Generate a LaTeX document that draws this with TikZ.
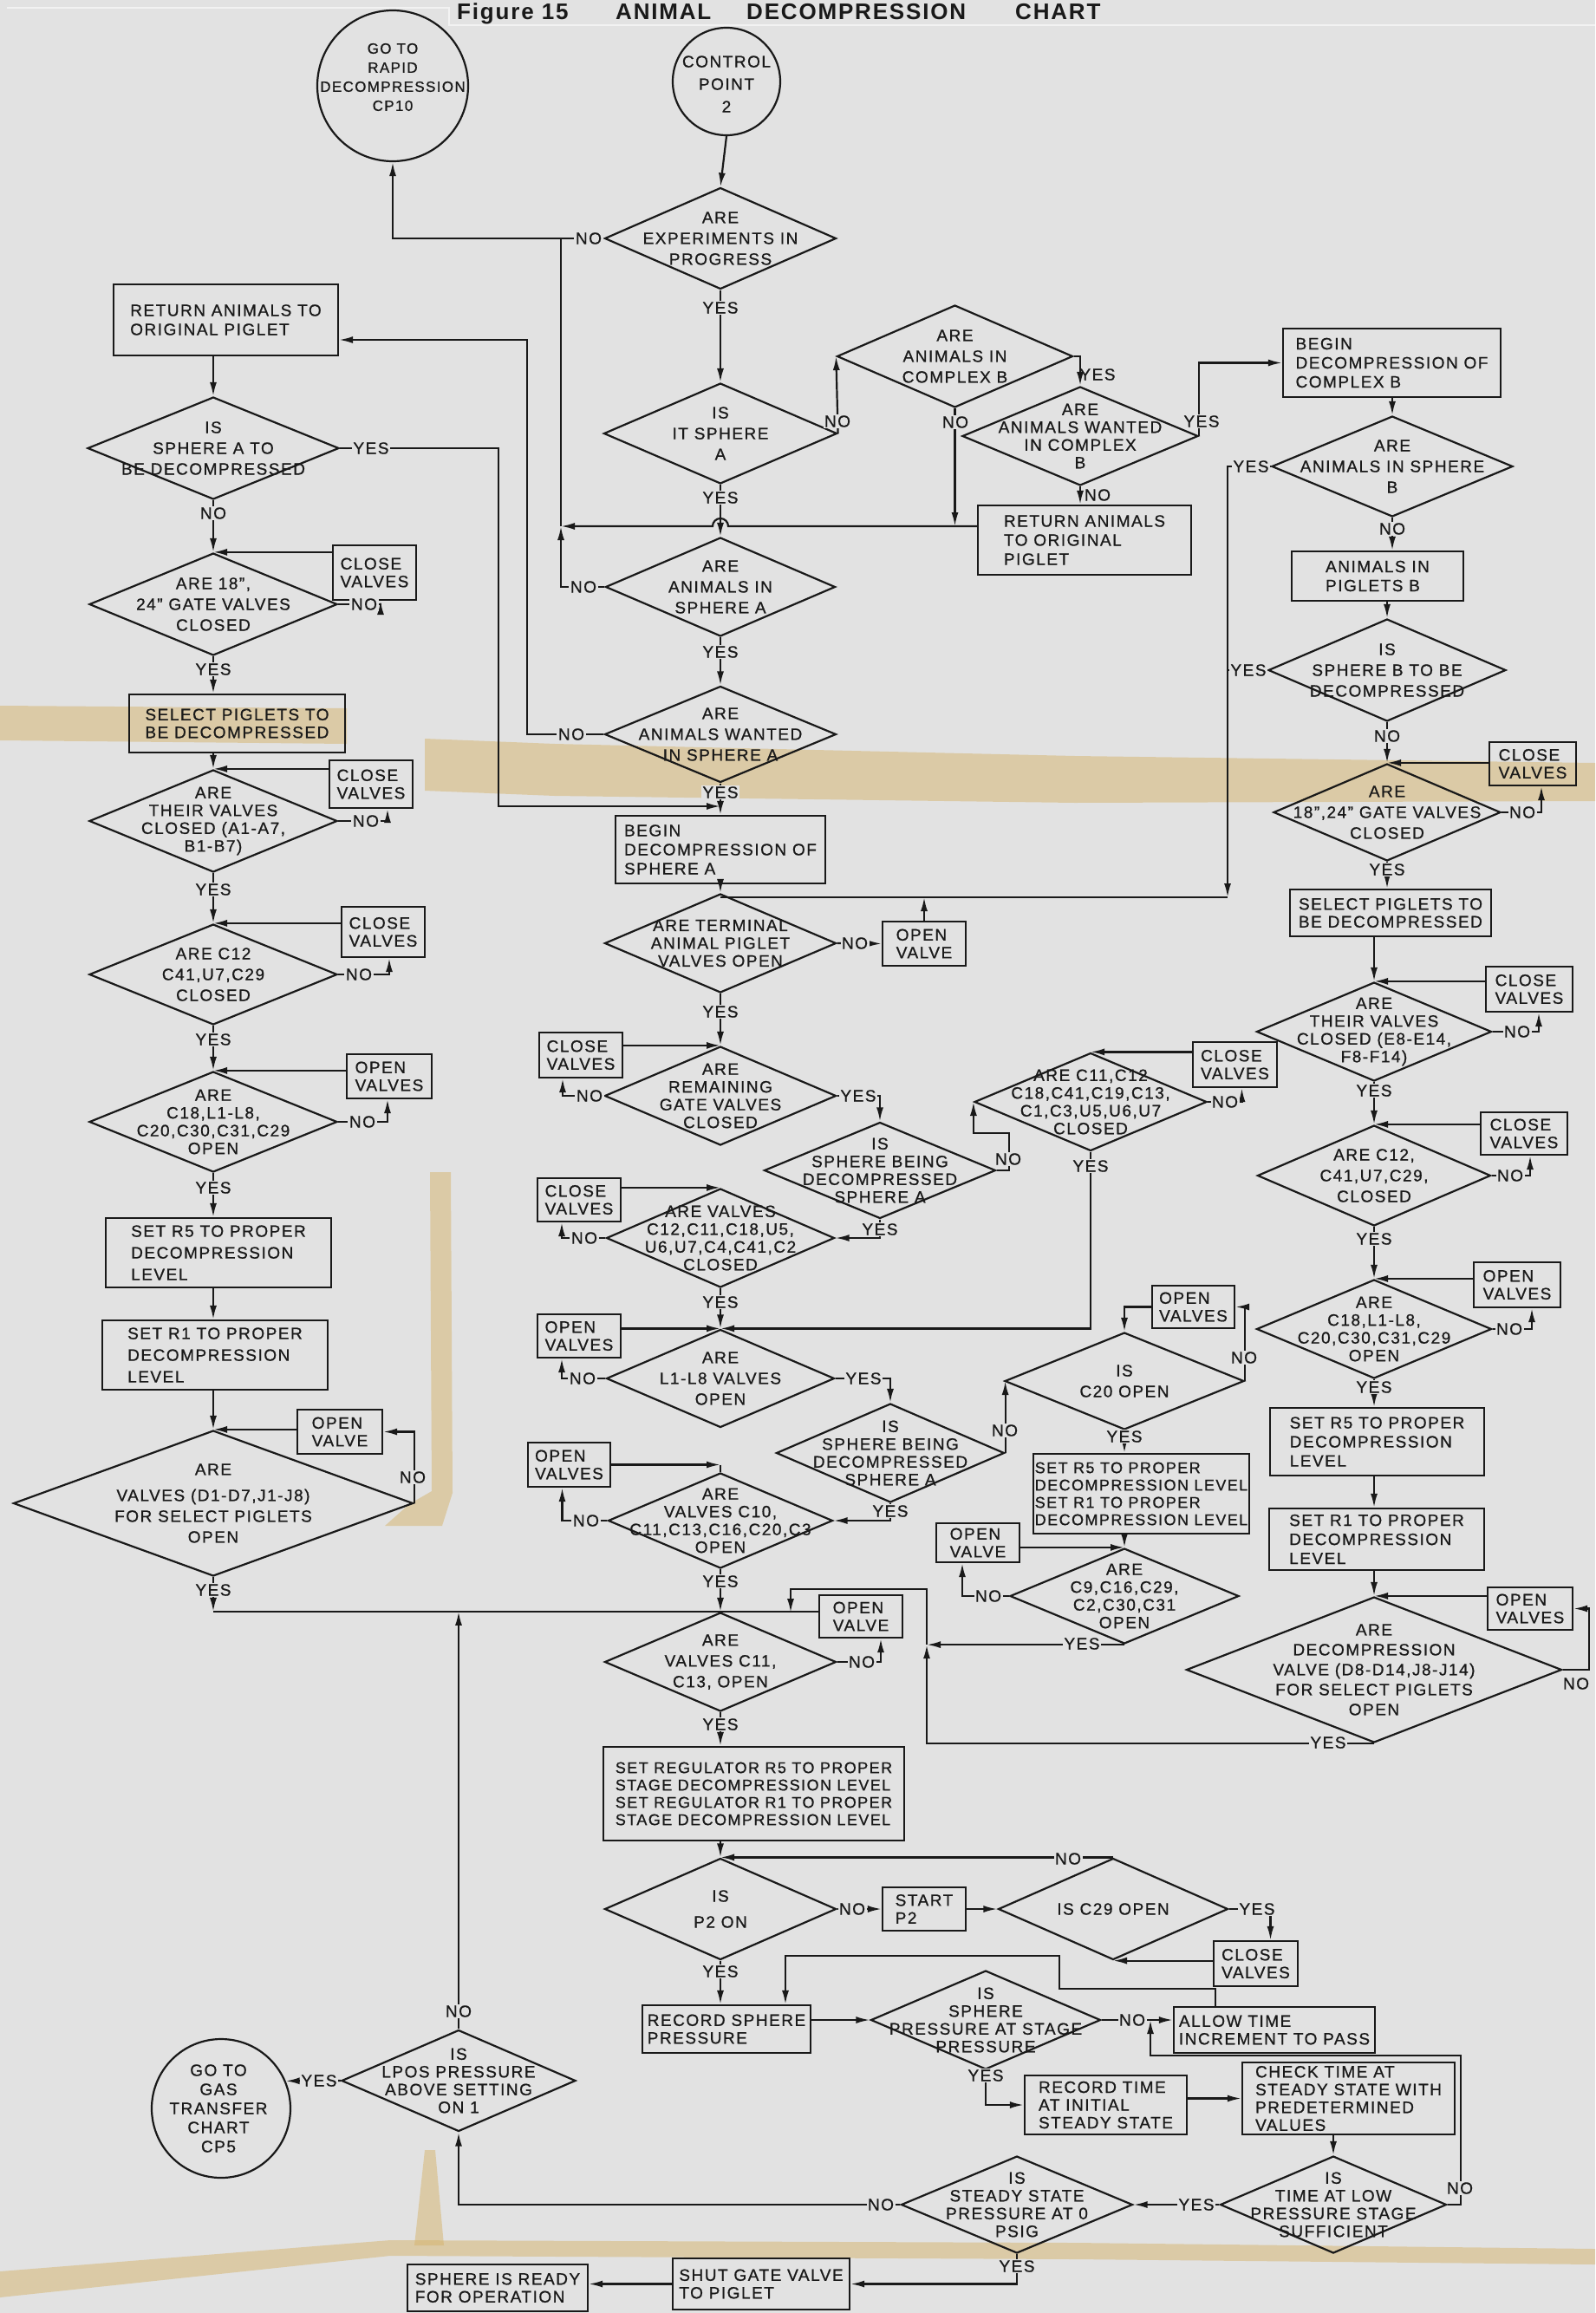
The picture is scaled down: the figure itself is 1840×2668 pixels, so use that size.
\documentclass[tikz,border=0pt]{standalone}
\usepackage{fontspec}
\setmainfont{Liberation Sans}[LetterSpace=8,FakeBold=0.8]
\newfontfamily\titlefont{Liberation Sans}[LetterSpace=7]
\usetikzlibrary{shapes.geometric,arrows.meta}
\definecolor{bg}{RGB}{226,226,226}
\definecolor{ink}{RGB}{25,25,25}
\definecolor{stain}{RGB}{214,180,108}
\definecolor{frameline}{RGB}{242,242,242}
\tikzset{
  dia/.style={diamond, draw=ink, line width=2.2pt, inner sep=0pt},
  bx/.style={rectangle, draw=ink, line width=2.2pt, inner sep=0pt},
  crc/.style={circle, draw=ink, line width=2.2pt, inner sep=0pt},
  txt/.style={inner sep=0pt, align=center, text=ink, font=\fontsize{19}{24}\selectfont},
  btxt/.style={inner sep=0pt, align=left, text=ink, font=\fontsize{19}{22}\selectfont},
  tight/.style={font=\fontsize{19}{20.5}\selectfont},
  small/.style={font=\fontsize{18}{20}\selectfont},
  lbl/.style={inner sep=1.5pt, fill=bg, text=ink, font=\fontsize{19}{22}\selectfont},
  ln/.style={draw=ink, line width=2.2pt},
  ar/.style={ln, -{Latex[length=16pt,width=8pt]}},
  sfill/.style={fill=stain, opacity=0.5},
}
\newcommand\Dia[7][]{%
  \node[dia, minimum width=#5pt, minimum height=#6pt] (#2) at (#3,#4) {};
  \node[txt,#1] (#2-t) at (#2.center) {#7};}
\newcommand\Bx[7][]{%
  \node[bx, minimum width=#5pt, minimum height=#6pt] (#2) at (#3,#4) {};
  \node[btxt,#1] (#2-t) at (#2.center) {#7};}
\newcommand\Lb[4]{\node[lbl] (#1) at (#2,#3) {#4};}
\begin{document}
\begin{tikzpicture}[x=1pt,y=-1pt]
\useasboundingbox (0,0) rectangle (1840,2668);
\fill[bg] (0,0) rectangle (1840,2668);
% stains
\fill[sfill] (0,814) -- (400,817) -- (400,858) -- (0,854) -- cycle;
\fill[sfill] (490,852) -- (640,858) -- (1240,872) -- (1840,880) -- (1840,924) -- (1240,926) -- (640,918) -- (490,912) -- cycle;
\fill[sfill] (496,1352) -- (520,1352) -- (522,1722) -- (510,1760) -- (444,1760) -- (472,1735) -- (498,1720) -- cycle;
\fill[sfill] (0,2620) -- (450,2584) -- (1240,2587) -- (1840,2594) -- (1840,2612) -- (1240,2606) -- (450,2602) -- (0,2650) -- cycle;
\fill[sfill] (490,2480) -- (502,2480) -- (512,2590) -- (478,2590) -- cycle;
% frame lines and title
\draw[frameline, line width=1.5pt] (8,9) -- (518,9) -- (518,29) -- (1840,29);
\node[anchor=base west, inner sep=0pt, text=ink, font={\titlefont\fontsize{26}{28}\selectfont\bfseries}] (tt1) at (527,23) {Figure 15};
\node[anchor=base west, inner sep=0pt, text=ink, font={\titlefont\fontsize{26}{28}\selectfont\bfseries}] (tt2) at (710,23) {ANIMAL};
\node[anchor=base west, inner sep=0pt, text=ink, font={\titlefont\fontsize{26}{28}\selectfont\bfseries}] (tt3) at (861,23) {DECOMPRESSION};
\node[anchor=base west, inner sep=0pt, text=ink, font={\titlefont\fontsize{26}{28}\selectfont\bfseries}] (tt4) at (1171,23) {CHART};

% circles
\node[crc, minimum size=174pt] (cp10) at (453,99) {};
\node[txt, font=\fontsize{17}{22}\selectfont] (cp10-t) at (453,89) {GO TO\\RAPID\\DECOMPRESSION\\CP10};
\node[crc, minimum size=124pt] (cp2) at (838,94) {};
\node[txt, font=\fontsize{19}{26}\selectfont] (cp2-t) at (838,97) {CONTROL\\POINT\\2};
\node[crc, minimum size=160pt] (cp5) at (255,2432) {};
\node[txt, font=\fontsize{19}{22}\selectfont] (cp5-t) at (252,2432) {GO TO\\GAS\\TRANSFER\\CHART\\CP5};

% diamonds
\Dia{dSA}{246}{517}{290}{118}{IS\\SPHERE A TO\\BE DECOMPRESSED}
\Dia{dGA}{246}{697}{286}{118}{ARE 18",\\24" GATE VALVES\\CLOSED}
\Dia[tight]{dTA}{246}{947}{286}{118}{ARE\\THEIR VALVES\\CLOSED (A1-A7,\\B1-B7)}
\Dia{dC12A}{246}{1124}{286}{116}{ARE C12\\C41,U7,C29\\CLOSED}
\Dia[tight]{dC18A}{246}{1294}{286}{116}{ARE\\C18,L1-L8,\\C20,C30,C31,C29\\OPEN}
\Dia{dDA}{246}{1734}{461}{168}{ARE\\[6pt]VALVES (D1-D7,J1-J8)\\FOR SELECT PIGLETS\\OPEN}
\Dia[tight]{dLPOS}{529}{2400}{270}{117}{IS\\LPOS PRESSURE\\ABOVE SETTING\\ON 1}
\Dia{dExp}{831}{275}{267}{117}{ARE\\EXPERIMENTS IN\\PROGRESS}
\Dia{dIsA}{831}{500}{269}{116}{IS\\IT SPHERE\\A}
\Dia{dCB}{1101.5}{411}{272}{118}{ARE\\ANIMALS IN\\COMPLEX B}
\Dia[tight]{dWB}{1246}{503}{272}{114}{ARE\\ANIMALS WANTED\\IN COMPLEX\\B}
\Dia{dInA}{831}{677}{265}{114}{ARE\\ANIMALS IN\\SPHERE A}
\Dia{dWA}{831}{847}{267}{111}{ARE\\ANIMALS WANTED\\IN SPHERE A}
\Dia[tight]{dTerm}{831}{1088}{267}{114}{ARE TERMINAL\\ANIMAL PIGLET\\VALVES OPEN}
\Dia[tight]{dRem}{831}{1264}{267}{114}{ARE\\REMAINING\\GATE VALVES\\CLOSED}
\Dia[tight]{dSB1}{1015}{1350}{267}{111}{IS\\SPHERE BEING\\DECOMPRESSED\\SPHERE A}
\Dia[tight]{dV12}{831}{1428}{263}{114}{ARE VALVES\\C12,C11,C18,U5,\\U6,U7,C4,C41,C2\\CLOSED}
\Dia[tight]{dC11a}{1258}{1271}{268}{113}{ARE C11,C12\\C18,C41,C19,C13,\\C1,C3,U5,U6,U7\\CLOSED}
\Dia{dL}{831}{1590}{263}{113}{ARE\\L1-L8 VALVES\\OPEN}
\Dia[tight]{dSB2}{1027}{1676}{263}{114}{IS\\SPHERE BEING\\DECOMPRESSED\\SPHERE A}
\Dia{dC20}{1297}{1593}{276}{112}{IS\\C20 OPEN}
\Dia[tight]{dC10}{831}{1754}{259}{110}{ARE\\VALVES C10,\\C11,C13,C16,C20,C3\\OPEN}
\Dia[tight]{dC9}{1297}{1841}{264}{110}{ARE\\C9,C16,C29,\\C2,C30,C31\\OPEN}
\Dia{dC11b}{831}{1917}{267}{114}{ARE\\VALVES C11,\\C13, OPEN}
\Dia{dP2}{831}{2202}{267}{117}{IS\\[6pt]P2 ON}
\Dia{dC29}{1284}{2202}{265}{117}{IS C29 OPEN}
\Dia[tight]{dSP}{1137}{2330}{265}{114}{IS\\SPHERE\\PRESSURE AT STAGE\\PRESSURE}
\Dia[tight]{dSS}{1173}{2543}{267}{112}{IS\\STEADY STATE\\PRESSURE AT 0\\PSIG}
\Dia[tight]{dTL}{1538}{2543}{261}{112}{IS\\TIME AT LOW\\PRESSURE STAGE\\SUFFICIENT}
\Dia{dSphB}{1606}{538}{278}{116}{ARE\\ANIMALS IN SPHERE\\B}
\Dia{dSBd}{1600}{773}{274}{118}{IS\\SPHERE B TO BE\\DECOMPRESSED}
\Dia{dGB}{1600}{937}{262}{112}{ARE\\18",24" GATE VALVES\\CLOSED}
\Dia[tight]{dTB}{1585}{1190}{271}{114}{ARE\\THEIR VALVES\\CLOSED (E8-E14,\\F8-F14)}
\Dia{dC12B}{1585}{1356}{269}{116}{ARE C12,\\C41,U7,C29,\\CLOSED}
\Dia[tight]{dC18B}{1585}{1533}{271}{114}{ARE\\C18,L1-L8,\\C20,C30,C31,C29\\OPEN}
\Dia[font=\fontsize{19}{23}\selectfont]{dDB}{1585}{1926}{433}{168}{ARE\\DECOMPRESSION\\VALVE (D8-D14,J8-J14)\\FOR SELECT PIGLETS\\OPEN}

% boxes
\Bx{retA}{260.5}{369}{259}{82}{RETURN ANIMALS TO\\ORIGINAL PIGLET}
\Bx[tight]{selA}{273.5}{834.5}{249}{67}{SELECT PIGLETS TO\\BE DECOMPRESSED}
\Bx[tight]{cvA1}{432}{660.5}{96}{63}{CLOSE\\VALVES}
\Bx[tight]{cvA2}{428}{904.5}{96}{55}{CLOSE\\VALVES}
\Bx[tight]{cvA3}{442}{1075}{96}{58}{CLOSE\\VALVES}
\Bx[tight]{ovA4}{449}{1241.5}{98}{51}{OPEN\\VALVES}
\Bx[font=\fontsize{19}{25}\selectfont]{r5A}{252}{1445}{260}{80}{SET R5 TO PROPER\\DECOMPRESSION\\LEVEL}
\Bx[font=\fontsize{19}{25}\selectfont]{r1A}{248}{1563}{260}{80}{SET R1 TO PROPER\\DECOMPRESSION\\LEVEL}
\Bx[tight]{ovA5}{392}{1651.5}{98}{51}{OPEN\\VALVE}
\Bx{begA}{831}{980}{242}{78}{BEGIN\\DECOMPRESSION OF\\SPHERE A}
\Bx[tight]{ovT}{1066}{1088.5}{96}{51}{OPEN\\VALVE}
\Bx[tight]{cvR}{670}{1217}{96}{52}{CLOSE\\VALVES}
\Bx[tight]{cvV}{668}{1384}{96}{50}{CLOSE\\VALVES}
\Bx[tight]{ovL}{668}{1541}{96}{50}{OPEN\\VALVES}
\Bx[tight]{ovC10}{656.5}{1689.5}{95}{51}{OPEN\\VALVES}
\Bx[tight]{ovC11}{993}{1864.5}{96}{49}{OPEN\\VALVE}
\Bx{retB}{1251}{623}{246}{80}{RETURN ANIMALS\\TO ORIGINAL\\PIGLET}
\Bx[tight]{cvC11}{1424.5}{1228}{97}{52}{CLOSE\\VALVES}
\Bx[tight]{ovC20}{1376.5}{1507.5}{95}{49}{OPEN\\VALVES}
\Bx[small]{setC20}{1316.5}{1723}{249}{92}{SET R5 TO PROPER\\DECOMPRESSION LEVEL\\SET R1 TO PROPER\\DECOMPRESSION LEVEL}
\Bx[tight]{ovC9}{1128}{1779.5}{96}{45}{OPEN\\VALVE}
\Bx[small]{setReg}{869.5}{2069}{347}{108}{SET REGULATOR R5 TO PROPER\\STAGE DECOMPRESSION LEVEL\\SET REGULATOR R1 TO PROPER\\STAGE DECOMPRESSION LEVEL}
\Bx[tight]{startP2}{1066}{2202}{96}{50}{START\\P2}
\Bx[tight]{cvC29}{1448.5}{2265}{97}{52}{CLOSE\\VALVES}
\Bx[tight]{recSP}{838}{2340.5}{194}{55}{RECORD SPHERE\\PRESSURE}
\Bx[tight]{allow}{1470}{2341.5}{232}{53}{ALLOW TIME\\INCREMENT TO PASS}
\Bx[tight]{recT}{1275.5}{2428}{187}{68}{RECORD TIME\\AT INITIAL\\STEADY STATE}
\Bx[tight]{check}{1555.5}{2420.5}{245}{83}{CHECK TIME AT\\STEADY STATE WITH\\PREDETERMINED\\VALUES}
\Bx[tight]{shut}{878}{2634.5}{204}{59}{SHUT GATE VALVE\\TO PIGLET}
\Bx[tight]{ready}{574}{2639}{208}{54}{SPHERE IS READY\\FOR OPERATION}
\Bx{begB}{1605.5}{418.5}{251}{79}{BEGIN\\DECOMPRESSION OF\\COMPLEX B}
\Bx{pigB}{1589}{664.5}{198}{57}{ANIMALS IN\\PIGLETS B}
\Bx[tight]{cvB1}{1768}{881}{100}{50}{CLOSE\\VALVES}
\Bx[tight]{selB}{1604}{1053}{232}{54}{SELECT PIGLETS TO\\BE DECOMPRESSED}
\Bx[tight]{cvB2}{1764}{1141}{100}{52}{CLOSE\\VALVES}
\Bx[tight]{cvB3}{1758}{1307.5}{100}{49}{CLOSE\\VALVES}
\Bx[tight]{ovB4}{1750}{1482}{100}{52}{OPEN\\VALVES}
\Bx{r5B}{1588.5}{1663}{247}{78}{SET R5 TO PROPER\\DECOMPRESSION\\LEVEL}
\Bx{r1B}{1588}{1775.5}{248}{71}{SET R1 TO PROPER\\DECOMPRESSION\\LEVEL}
\Bx[tight]{ovB5}{1765}{1855.5}{98}{49}{OPEN\\VALVES}

% helper coordinates
\coordinate (jA) at (647,607);
\coordinate (kR) at (608,392);
\coordinate (kS) at (575,930);
\coordinate (kT) at (1416,1035);
\coordinate (kA) at (1069,1833);
\coordinate (kB) at (912,1860);
\coordinate (kC) at (1327,2371);
\coordinate (kD) at (1327,2330);
\coordinate (kE) at (1222,2294);
\coordinate (kF) at (906,2256);

% ---- connectors: top / centre
\draw[ar] (cp2.south) -- (dExp.north);
\draw[ar] (dExp.west) -| (cp10.south);
\draw[ar] (dExp.south) -- (dIsA.north);
\draw[ar] (dIsA.east) -- (dCB.west);
\draw[ar] (dCB.east) -| (dWB.north);
\draw[ar] (dWB.east) |- (begB.west);
\draw[ar] (dWB.south) -- (dWB.south |- retB.north);
\draw[ar] (dCB.south) -- (dCB.south |- jA);
\draw[ar] (retB.west |- jA) -- (840,607) arc[start angle=0,end angle=180,radius=9pt] -- (jA);
\draw[ar] (dInA.west) -| (jA);
\draw[ln] (jA) -- (jA |- dExp.west);
\draw[ar] (dIsA.south) -- (dInA.north);
\draw[ar] (dInA.south) -- (dWA.north);
\draw[ar] (dWA.west) -| (kR) -- (retA.east |- kR);
\draw[ar] (dSA.east) -| (kS) -- (kS -| dWA.south);
\draw[ar] (dWA.south) -- (begA.north);
\draw[ar] (begA.south) -- (dTerm.north);
\draw[ar] (dSphB.west) -| (kT);
\draw[ln] (kT) -- (kT -| begA.south);
\draw[ln] (dSBd.west) -- (dSBd.west -| kT);
\draw[ar] (ovT.north) -- (ovT.north |- kT);
\draw[ar] (dTerm.east) -- (ovT.west);
\draw[ar] (dTerm.south) -- (dRem.north);
\draw[ar] (cvR.east |- dRem.north) -- (dRem.north);
\draw[ar] (dRem.west) -| ([xshift=-21pt]cvR.south);
\draw[ar] (dRem.east) -| (dSB1.north);
\draw[ar] (dSB1.east) -- ++(14,0) |- ([yshift=-36pt]dC11a.west) -- (dC11a.west);
\draw[ar] (dSB1.south) |- (dV12.east);
\draw[ar] (cvV.east |- dV12.north) -- (dV12.north);
\draw[ar] (dV12.west) -| ([xshift=-20pt]cvV.south);
\draw[ar] (dV12.south) -- (dL.north);
\draw[ar] (cvC11.west |- dC11a.north) -- (dC11a.north);
\draw[ar] (dC11a.east) -| ([xshift=8pt]cvC11.south);
\draw[ar] (dC11a.south) |- (dL.north);
\draw[ar] (ovL.east |- dL.north) -- (dL.north);
\draw[ar] (dL.west) -| ([xshift=-20pt]ovL.south);
\draw[ar] (dL.east) -| (dSB2.north);
\draw[ar] (dSB2.east) -- (dSB2.east |- dC20.west);
\draw[ar] (ovC20.west) -| (dC20.north);
\draw[ar] (dC20.east) |- (ovC20.east);
\draw[ar] (dC20.south) -- (dC20.south |- setC20.north);
\draw[ar] (setC20.south -| dC9.north) -- (dC9.north);
\draw[ar] (ovC9.east |- dC9.north) -- (dC9.north);
\draw[ar] (dC9.west) -| ([xshift=-18pt]ovC9.south);
\draw[ar] (dSB2.south) |- (dC10.east);
\draw[ar] (ovC10.east) -- (ovC10.east -| dC10.north);
\draw[ln] (ovC10.east -| dC10.north) -- (dC10.north);
\draw[ar] (dC10.west) -| ([xshift=-8pt]ovC10.south);
\draw[ar] (dC10.south) -- (dC11b.north);
\draw[ar] (dDA.south) -- (dDA.south |- dC11b.north);
\draw[ln] (dDA.south |- dC11b.north) -- (dC11b.north);
\draw[ar] (dLPOS.north) -- (dLPOS.north |- dC11b.north);
\draw[ln] (ovC11.west |- dC11b.north) -- (dC11b.north);
\draw[ar] (dC11b.east) -| ([xshift=23pt]ovC11.south);
\draw[ar] (dDB.south) -| (kA |- dC9.south);
\draw[ar] (dC9.south) -- (kA |- dC9.south);
\draw[ar] (kA |- dC9.south) -- (kA) -| (kB);

% ---- bottom
\draw[ar] (dC11b.south) -- (dC11b.south |- setReg.north);
\draw[ar] (setReg.south -| dP2.north) -- (dP2.north);
\draw[ar] (dC29.north) -- (dP2.north);
\draw[ar] (dP2.east) -- (startP2.west);
\draw[ar] (startP2.east) -- (dC29.west);
\draw[ar] (dC29.east) -| ([xshift=17pt]cvC29.north);
\draw[ar] (cvC29.west |- dC29.south) -- (dC29.south);
\draw[ar] (dP2.south) -- (dP2.south |- recSP.north);
\draw[ar] (recSP.east |- dSP.west) -- (dSP.west);
\draw[ar] (dSP.east) -- (dSP.east -| allow.west);
\draw[ar] ([xshift=-68pt]allow.north) |- (kE) |- (kF) -- (kF |- recSP.north);
\draw[ar] (dTL.east) -- ++(15,0) |- (kC) -- (kD);
\draw[ar] (dSP.south) |- (recT.west);
\draw[ar] (recT.east |- check.west) -- (check.west);
\draw[ar] (check.south -| dTL.north) -- (dTL.north);
\draw[ar] (dTL.west) -- (dSS.east);
\draw[ar] (dSS.west) -| (dLPOS.south);
\draw[ar] (dSS.south) |- (shut.east);
\draw[ar] (shut.west) -- (shut.west -| ready.east);
\draw[ar] (dLPOS.west) -- (cp5.23.6);

% ---- left column
\draw[ar] (retA.south -| dSA.north) -- (dSA.north);
\draw[ar] (dSA.south) -- (dGA.north);
\draw[ar] (cvA1.west |- dGA.north) -- (dGA.north);
\draw[ar] (dGA.east) -| ([xshift=7pt]cvA1.south);
\draw[ar] (dGA.south) -- (dGA.south |- selA.north);
\draw[ar] (selA.south -| dTA.north) -- (dTA.north);
\draw[ar] (cvA2.west |- dTA.north) -- (dTA.north);
\draw[ar] (dTA.east) -| ([xshift=19pt]cvA2.south);
\draw[ar] (dTA.south) -- (dC12A.north);
\draw[ar] (cvA3.west |- dC12A.north) -- (dC12A.north);
\draw[ar] (dC12A.east) -| ([xshift=7pt]cvA3.south);
\draw[ar] (dC12A.south) -- (dC18A.north);
\draw[ar] (ovA4.west |- dC18A.north) -- (dC18A.north);
\draw[ar] (dC18A.east) -| ([xshift=-2pt]ovA4.south);
\draw[ar] (dC18A.south) -- (dC18A.south |- r5A.north);
\draw[ar] (r5A.south -| dDA.north) -- (r1A.north -| dDA.north);
\draw[ar] (r1A.south -| dDA.north) -- (dDA.north);
\draw[ar] (ovA5.west |- dDA.north) -- (dDA.north);
\draw[ar] (dDA.east) |- (ovA5.east);

% ---- right column
\draw[ar] (begB.south -| dSphB.north) -- (dSphB.north);
\draw[ar] (dSphB.south) -- (dSphB.south |- pigB.north);
\draw[ar] (pigB.south -| dSBd.north) -- (dSBd.north);
\draw[ar] (dSBd.south) -- (dGB.north);
\draw[ar] (cvB1.west |- dGB.north) -- (dGB.north);
\draw[ar] (dGB.east) -| ([xshift=10pt]cvB1.south);
\draw[ar] (dGB.south) -- (dGB.south |- selB.north);
\draw[ar] (selB.south -| dTB.north) -- (dTB.north);
\draw[ar] (cvB2.west |- dTB.north) -- (dTB.north);
\draw[ar] (dTB.east) -| ([xshift=11pt]cvB2.south);
\draw[ar] (dTB.south) -- (dC12B.north);
\draw[ar] (cvB3.west |- dC12B.north) -- (dC12B.north);
\draw[ar] (dC12B.east) -| ([xshift=7pt]cvB3.south);
\draw[ar] (dC12B.south) -- (dC18B.north);
\draw[ar] (ovB4.west |- dC18B.north) -- (dC18B.north);
\draw[ar] (dC18B.east) -| ([xshift=17pt]ovB4.south);
\draw[ar] (dC18B.south) -- (dC18B.south |- r5B.north);
\draw[ar] (r5B.south -| dDB.north) -- (r1B.north -| dDB.north);
\draw[ar] (r1B.south -| dDB.north) -- (dDB.north);
\draw[ar] (ovB5.west |- dDB.north) -- (dDB.north);
\draw[ar] (dDB.east) -- ++(30,0) |- (ovB5.east);

% ---- labels
\Lb{lb1}{679}{275}{NO}
\Lb{lb2}{831}{355}{YES}
\Lb{lb3}{966}{486}{NO}
\node[lbl,fill=none] (lb4) at (1266,432) {YES};
\Lb{lb5}{1386}{486}{YES}
\node[lbl,fill=none] (lb6) at (1266,571) {NO};
\Lb{lb7}{1102}{487}{NO}
\Lb{lb8}{831}{574}{YES}
\Lb{lb9}{673}{677}{NO}
\Lb{lb10}{831}{752}{YES}
\Lb{lb11}{659}{847}{NO}
\Lb{lb12}{428}{517}{YES}
\Lb{lb13}{831}{914}{YES}
\Lb{lb14}{1606}{610}{NO}
\Lb{lb15}{1443}{538}{YES}
\Lb{lb16}{1440}{773}{YES}
\Lb{lb17}{1600}{849}{NO}
\Lb{lb18}{1756}{937}{NO}
\Lb{lb19}{1600}{1003}{YES}
\Lb{lb20}{986}{1088}{NO}
\Lb{lb21}{831}{1167}{YES}
\Lb{lb22}{680}{1264}{NO}
\Lb{lb23}{990}{1264}{YES}
\Lb{lb24}{1750}{1190}{NO}
\Lb{lb25}{1585}{1258}{YES}
\Lb{lb26}{1163}{1337}{NO}
\Lb{lb27}{1015}{1418}{YES}
\Lb{lb28}{674}{1428}{NO}
\Lb{lb29}{1413}{1271}{NO}
\Lb{lb30}{1258}{1345}{YES}
\Lb{lb31}{1742}{1356}{NO}
\Lb{lb32}{1585}{1429}{YES}
\Lb{lb33}{831}{1502}{YES}
\Lb{lb34}{672}{1590}{NO}
\Lb{lb35}{996}{1590}{YES}
\Lb{lb36}{1741}{1533}{NO}
\Lb{lb37}{1585}{1600}{YES}
\Lb{lb38}{1435}{1566}{NO}
\Lb{lb39}{1297}{1657}{YES}
\Lb{lb40}{1159}{1650}{NO}
\Lb{lb41}{1027}{1743}{YES}
\Lb{lb42}{676}{1754}{NO}
\Lb{lb43}{831}{1824}{YES}
\Lb{lb44}{1140}{1841}{NO}
\Lb{lb45}{1248}{1896}{YES}
\Lb{lb46}{994}{1917}{NO}
\Lb{lb47}{831}{1989}{YES}
\Lb{lb48}{1532}{2010}{YES}
\node[lbl,fill=none] (lb49) at (1818,1942) {NO};
\Lb{lb50}{1232}{2144}{NO}
\Lb{lb51}{983}{2202}{NO}
\Lb{lb52}{1450}{2202}{YES}
\Lb{lb53}{831}{2274}{YES}
\Lb{lb54}{1306}{2330}{NO}
\Lb{lb55}{1137}{2394}{YES}
\Lb{lb56}{1684}{2524}{NO}
\Lb{lb57}{1380}{2543}{YES}
\Lb{lb58}{1016}{2543}{NO}
\Lb{lb59}{1173}{2614}{YES}
\Lb{lb60}{529}{2320}{NO}
\Lb{lb61}{368}{2400}{YES}
\Lb{lb62}{246}{592}{NO}
\Lb{lb63}{420}{697}{NO}
\Lb{lb64}{246}{772}{YES}
\Lb{lb65}{422}{947}{NO}
\Lb{lb66}{246}{1026}{YES}
\Lb{lb67}{414}{1124}{NO}
\Lb{lb68}{246}{1199}{YES}
\Lb{lb69}{418}{1294}{NO}
\Lb{lb70}{246}{1370}{YES}
\Lb{lb71}{476}{1704}{NO}
\Lb{lb72}{246}{1834}{YES}
\end{tikzpicture}
\end{document}
